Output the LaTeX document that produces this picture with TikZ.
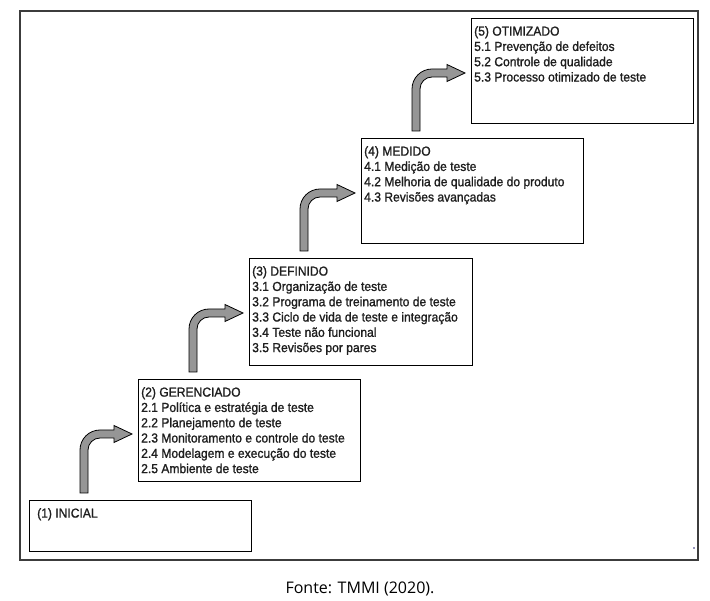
\documentclass[tikz,border=0pt]{standalone}
\usepackage{fontspec}
\usetikzlibrary{calc}
\newfontfamily\stagefont[FakeStretch=0.93,FakeBold=1.2]{Liberation Sans}
\newfontfamily\captionfont{Open Sans}
\definecolor{arrowgray}{RGB}{150,150,150}
\definecolor{framegray}{RGB}{60,60,60}
\definecolor{inkgray}{RGB}{30,30,30}

\tikzset{
  stagebox/.style={draw=black, line width=1.2pt, anchor=north west, inner sep=0pt},
  stagetext/.style={anchor=north west, align=left, inner sep=0pt, text=inkgray,
    font=\stagefont\fontsize{13}{15.3}\selectfont},
  stairarrow/.style={fill=arrowgray, draw=black, line width=0.8pt, line join=miter},
}

% Bent gray arrow climbing from one stage box to the next one
\newcommand\stairarrow[2]{%
  \path[stairarrow] let \p3=($(#1.north west)+(55pt,7pt)$),
                        \p4=($(#2.north west)+(-6pt,-55pt)$) in
    ({\x3-4pt},{\y3}) -- ({\x3-4pt},{\y4-16pt})
    arc[start angle=180,end angle=90,radius=20pt]
    -- ({\x4-18pt},{\y4+4pt}) -- ({\x4-18pt},{\y4+8.5pt})
    -- (\x4,\y4)
    -- ({\x4-18pt},{\y4-8.5pt}) -- ({\x4-18pt},{\y4-4pt})
    -- ({\x3+16pt},{\y4-4pt})
    arc[start angle=90,end angle=180,radius=12pt]
    -- ({\x3+4pt},{\y3}) -- cycle;
}

\begin{document}
\begin{tikzpicture}[x=1pt,y=1pt]
  \useasboundingbox[fill=white] (0,0) rectangle (710,-601);

  % outer frame
  \draw[framegray, line width=1.3pt] (20,-11) rectangle (698,-560);
  \fill[framegray!70!blue] (694,-548) circle (0.9);

  % stage boxes
  \node[stagebox, minimum width=222pt, minimum height=51pt]  (b1) at (29,-500) {};
  \node[stagebox, minimum width=222pt, minimum height=102pt] (b2) at (138,-379) {};
  \node[stagebox, minimum width=223pt, minimum height=107pt] (b3) at (249,-258) {};
  \node[stagebox, minimum width=222pt, minimum height=105pt] (b4) at (361,-138) {};
  \node[stagebox, minimum width=222pt, minimum height=105pt] (b5) at (471,-18) {};

  % stage contents
  \node[stagetext] (t1) at ([shift={(8pt,-8pt)}]b1.north west) {(1) INICIAL};
  \node[stagetext] (t2) at ([shift={(3pt,-8pt)}]b2.north west) {%
    (2) GERENCIADO\\
    2.1 Política e estratégia de teste\\
    2.2 Planejamento de teste\\
    2.3 Monitoramento e controle do teste\\
    2.4 Modelagem e execução do teste\\
    2.5 Ambiente de teste};
  \node[stagetext] (t3) at ([shift={(3pt,-8pt)}]b3.north west) {%
    (3) DEFINIDO\\
    3.1 Organização de teste\\
    3.2 Programa de treinamento de teste\\
    3.3 Ciclo de vida de teste e integração\\
    3.4 Teste não funcional\\
    3.5 Revisões por pares};
  \node[stagetext] (t4) at ([shift={(3pt,-8pt)}]b4.north west) {%
    (4) MEDIDO\\
    4.1 Medição de teste\\
    4.2 Melhoria de qualidade do produto\\
    4.3 Revisões avançadas};
  \node[stagetext] (t5) at ([shift={(3pt,-8pt)}]b5.north west) {%
    (5) OTIMIZADO\\
    5.1 Prevenção de defeitos\\
    5.2 Controle de qualidade\\
    5.3 Processo otimizado de teste};

  % arrows between consecutive stages
  \stairarrow{b1}{b2}
  \stairarrow{b2}{b3}
  \stairarrow{b3}{b4}
  \stairarrow{b4}{b5}

  % source line
  \node[font=\captionfont\fontsize{16}{19}\selectfont, anchor=base, inner sep=0pt]
    (src) at (360,-593) {Fonte: TMMI (2020).};
\end{tikzpicture}
\end{document}
